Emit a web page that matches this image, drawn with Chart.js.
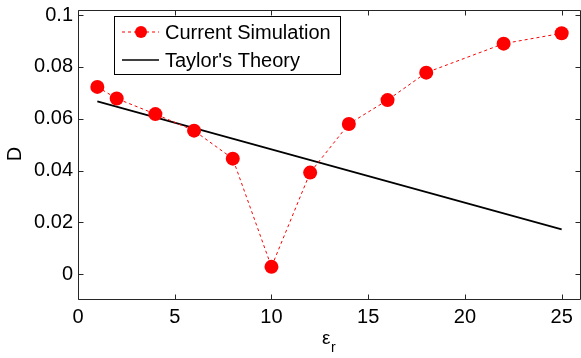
<!DOCTYPE html>
<html>
<head>
<meta charset="utf-8">
<script src="https://cdn.jsdelivr.net/npm/chart.js@4/dist/chart.umd.min.js"></script>
<style>
html,body{margin:0;padding:0;background:#fff;}
#wrap{width:581px;height:358px;}
</style>
</head>
<body>
<div id="wrap"><canvas id="c" width="581" height="358"></canvas></div>
<script>
// ---- data ----
const simEps = [1, 2, 4, 6, 8, 10, 12, 14, 16, 18, 22, 25];
const simD   = [0.0723, 0.0678, 0.0618, 0.0554, 0.0446, 0.0028, 0.0392, 0.0580, 0.0672, 0.0778, 0.0890, 0.0930];
const theoryEps = [1, 25];
const theoryD   = [0.0667, 0.0173];
const xTicks = [0, 5, 10, 15, 20, 25];
const yTicks = [0, 0.02, 0.04, 0.06, 0.08, 0.1];
const seriesNames = ["Current Simulation", "Taylor's Theory"];
const xTitle = "\u03b5";
const xTitleSub = "r";
const yTitle = "D";

const FONT = '"Liberation Sans", Arial, sans-serif';
const RED = '#ff0000';
const AXIS = '#262626';

const frame = {
  id: 'frame',
  afterDatasetsDraw(chart) {
    const ctx = chart.ctx;
    const a = chart.chartArea;
    const xs = chart.scales.x, ys = chart.scales.y;
    ctx.save();
    ctx.strokeStyle = AXIS;
    ctx.lineWidth = 1;
    const L = Math.round(a.left) + 0.5, R = Math.round(a.right) - 0.5;
    const T = Math.round(a.top) + 0.5, B = Math.round(a.bottom) - 0.5;
    ctx.beginPath();
    ctx.rect(L, T, R - L, B - T);
    ctx.stroke();
    const tl = 5;
    ctx.beginPath();
    xTicks.forEach(v => {
      const px = Math.round(xs.getPixelForValue(v)) + 0.5;
      ctx.moveTo(px, B); ctx.lineTo(px, B - tl);
      ctx.moveTo(px, T); ctx.lineTo(px, T + tl);
    });
    yTicks.forEach(v => {
      const py = Math.round(ys.getPixelForValue(v)) + 0.5;
      ctx.moveTo(L, py); ctx.lineTo(L + tl, py);
      ctx.moveTo(R, py); ctx.lineTo(R - tl, py);
    });
    ctx.stroke();

    // axis titles
    ctx.fillStyle = '#000';
    ctx.textAlign = 'center';
    ctx.textBaseline = 'middle';
    ctx.font = '20px ' + FONT;
    ctx.save();
    ctx.translate(15, 154);
    ctx.rotate(-Math.PI / 2);
    ctx.fillText(yTitle, 0, 0);
    ctx.restore();
    ctx.font = '19px ' + FONT;
    ctx.textAlign = 'left';
    ctx.fillText(xTitle, 322, 339);
    ctx.font = '14px ' + FONT;
    ctx.fillText(xTitleSub, 331, 348);

    // legend
    const lx = 114.5, ly = 16.5, lw = 226, lh = 58;
    ctx.fillStyle = '#fff';
    ctx.fillRect(lx, ly, lw, lh);
    ctx.strokeStyle = '#000';
    ctx.lineWidth = 1;
    ctx.strokeRect(lx, ly, lw, lh);
    const ds = chart.data.datasets;
    const rows = [32, 60];
    ds.forEach((d, i) => {
      const y = rows[i];
      ctx.save();
      ctx.strokeStyle = d.borderColor;
      ctx.lineWidth = d.borderWidth;
      ctx.setLineDash(d.borderDash || []);
      ctx.beginPath();
      ctx.moveTo(122, y); ctx.lineTo(159, y);
      ctx.stroke();
      ctx.restore();
      if (d.pointRadius > 0) {
        ctx.fillStyle = d.pointBackgroundColor;
        ctx.beginPath();
        ctx.arc(141, y, 6, 0, Math.PI * 2);
        ctx.fill();
      }
      ctx.fillStyle = '#000';
      ctx.font = '20px ' + FONT;
      ctx.textAlign = 'left';
      ctx.textBaseline = 'middle';
      ctx.fillText(d.label, 165, y + 1);
    });
    ctx.restore();
  }
};

new Chart(document.getElementById('c'), {
  type: 'line',
  data: {
    datasets: [
      {
        label: seriesNames[0],
        data: simEps.map((x, i) => ({ x: x, y: simD[i] })),
        borderColor: RED,
        borderWidth: 1,
        borderDash: [3, 3],
        pointRadius: 7,
        pointBackgroundColor: RED,
        pointBorderColor: RED,
        pointBorderWidth: 0,
        fill: false,
        tension: 0
      },
      {
        label: seriesNames[1],
        data: theoryEps.map((x, i) => ({ x: x, y: theoryD[i] })),
        borderColor: '#000',
        borderWidth: 1.7,
        pointRadius: 0,
        fill: false,
        tension: 0
      }
    ]
  },
  options: {
    responsive: false,
    animation: false,
    devicePixelRatio: 1,
    layout: { autoPadding: false, padding: { top: 10, right: 0, left: 0, bottom: 0 } },
    plugins: { legend: { display: false }, tooltip: { enabled: false } },
    scales: {
      x: {
        type: 'linear',
        min: 0, max: 26,
        grid: { display: false, drawTicks: false },
        border: { display: false },
        afterBuildTicks: s => { s.ticks = xTicks.map(v => ({ value: v })); },
        afterFit: s => { s.height = 58; s.paddingLeft = 0; s.paddingRight = 0; },
        ticks: {
          color: '#000',
          font: { family: FONT, size: 20 },
          padding: 5,
          maxRotation: 0,
          autoSkip: false,
          callback: v => String(v)
        }
      },
      y: {
        type: 'linear',
        min: -0.01, max: 0.102,
        grid: { display: false, drawTicks: false },
        border: { display: false },
        afterBuildTicks: s => { s.ticks = yTicks.map(v => ({ value: v })); },
        afterFit: s => { s.width = 78; s.paddingTop = 0; s.paddingBottom = 0; },
        ticks: {
          color: '#000',
          font: { family: FONT, size: 20 },
          padding: 5,
          autoSkip: false,
          callback: v => String(Math.round(v * 1000) / 1000)
        }
      }
    }
  },
  plugins: [frame]
});
</script>
</body>
</html>
